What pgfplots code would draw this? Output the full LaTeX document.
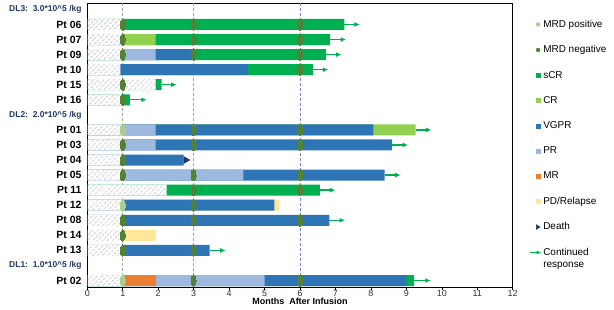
\documentclass[border=0pt]{standalone}
\usepackage{fontspec}
\setmainfont{Liberation Sans}
\usepackage{pgfplots}
\usepackage{pgfplotstable}
\pgfplotsset{compat=1.18}
\usetikzlibrary{arrows.meta,patterns.meta}

\definecolor{scr}{HTML}{00B050}
\definecolor{cr}{HTML}{92D050}
\definecolor{vgpr}{HTML}{2E75B6}
\definecolor{pr}{HTML}{9DB9DF}
\definecolor{mr}{HTML}{ED7D31}
\definecolor{pd}{HTML}{FFE699}
\definecolor{death}{HTML}{1F3864}
\definecolor{mrdneg}{HTML}{548235}
\definecolor{mrdpos}{HTML}{A9D18E}
\definecolor{hatchc}{HTML}{B0B0B0}
\definecolor{dlblue}{HTML}{1F3864}
\definecolor{refgrey}{HTML}{A6A6A6}
\definecolor{refblue}{HTML}{6F86B8}

\newcommand{\dl}{\color{dlblue}\fontsize{8.5}{10}\selectfont}

% Rows: 0 = DL3 header, 1..6 = DL3 patients, 7 = DL2 header, 8..16 = DL2 patients,
% 17 = DL1 header, 18 = DL1 patient. Each value is the month where a segment ends;
% segments are drawn from 0 and overlaid latest-first, so each row reads left to right.
\pgfplotstableread{
row end
1 7.25
2 6.85
3 6.73
4 6.36
5 2.10
6 1.20
12 6.56
18 9.22
}\scrdata
\pgfplotstableread{
row end
2 1.93
8 9.26
}\crdata
\pgfplotstableread{
row end
13 5.42
15 1.93
}\pddata
\pgfplotstableread{
row end
3 3.00
4 4.53
8 8.07
9 8.60
10 2.72
11 8.39
13 5.28
14 6.83
16 3.45
18 9.00
}\vgprdata
\pgfplotstableread{
row end
3 1.93
8 1.93
9 1.93
11 4.40
18 5.00
}\prdata
\pgfplotstableread{
row end
18 1.93
}\mrdata
\pgfplotstableread{
row end
1 1
2 1
3 1
4 0.93
5 1.93
6 1
8 1
9 1
10 1
11 1
12 2.24
13 1
14 1
15 1
16 1
18 1
}\prior
% continued response: start of arrow and its length in months
\pgfplotstableread{
row start len
1 7.25 0.44
2 6.85 0.45
3 6.73 0.44
4 6.36 0.44
5 2.10 0.42
6 1.20 0.48
8 9.26 0.45
9 8.60 0.45
11 8.39 0.45
12 6.56 0.44
14 6.83 0.44
16 3.45 0.45
18 9.22 0.47
}\contdata
\pgfplotstableread{
month row
1 1
3 1
6 1
1 2
3 2
6 2
1 3
3 3
6 3
6 4
1 5
1 6
3 8
6 8
1 9
3 9
6 9
1 10
1 11
3 11
6 11
3 12
6 12
3 13
1 14
3 14
6 14
1 15
1 16
3 16
3 18
6 18
}\mrdneg
\pgfplotstableread{
month row
1 8
1 13
1 18
}\mrdpos

\begin{document}
\begin{tikzpicture}
\begin{axis}[
  scale only axis,
  width=425.4bp, height=284bp,
  xmin=0, xmax=12,
  ymin=-0.405, ymax=18.45,
  y dir=reverse,
  axis line style={line width=0.8bp},
  xtick={0,...,12},
  xtick pos=bottom,
  xtick align=outside,
  major tick length=2.5bp,
  xtick style={black, line width=0.6bp},
  xticklabel style={font=\fontsize{9}{10}\selectfont, text=black!80, inner sep=0.5bp},
  /pgf/number format/assume math mode=true,
  ytick={0,...,18},
  ytick style={draw=none},
  yticklabels={
    {\dl DL3:\ \ 3.0*10\textasciicircum5 /kg}, Pt 06, Pt 07, Pt 09, Pt 10, Pt 15, Pt 16,
    {\dl DL2:\ \ 2.0*10\textasciicircum5 /kg}, Pt 01, Pt 03, Pt 04, Pt 05, Pt 11, Pt 12, Pt 08, Pt 14, Pt 13,
    {\dl DL1:\ \ 1.0*10\textasciicircum5 /kg}, Pt 02},
  yticklabel style={font=\bfseries\fontsize{10.5}{12}\selectfont, inner sep=0pt, xshift=-5.6bp},
  xlabel={Months\ \ After Infusion},
  xlabel style={font=\bfseries\fontsize{9}{10}\selectfont, inner sep=0pt, anchor=north,
    at={(axis description cs:0.5,0)}, yshift=-10.6bp},
  seg/.style={xbar, bar width=11bp, bar shift=0pt, draw=none, fill=#1, forget plot},
  legend cell align=left,
  legend style={
    at={(1,1)}, anchor=north west, xshift=16.2bp, yshift=-15.1bp,
    draw=none, fill=none, inner sep=0pt,
    font=\fontsize{10}{12}\selectfont,
    row sep=13.8bp,
    nodes={inner sep=1.5bp, text depth=0.15em, align=left},
  },
]
% legend entries
\addlegendimage{legend image code/.code={\fill[mrdpos] (-2.6bp,0bp) circle[radius=2bp];}}
\addlegendentry{MRD positive}
\addlegendimage{legend image code/.code={\fill[mrdneg] (-2.6bp,0bp) circle[radius=2bp];}}
\addlegendentry{MRD negative}
\addlegendimage{legend image code/.code={\fill[scr] (-4.6bp,-2bp) rectangle (-0.6bp,2bp);}}
\addlegendentry{sCR}
\addlegendimage{legend image code/.code={\fill[cr] (-4.6bp,-2bp) rectangle (-0.6bp,2bp);}}
\addlegendentry{CR}
\addlegendimage{legend image code/.code={\fill[vgpr] (-4.6bp,-2bp) rectangle (-0.6bp,2bp);}}
\addlegendentry{VGPR}
\addlegendimage{legend image code/.code={\fill[pr] (-4.6bp,-2bp) rectangle (-0.6bp,2bp);}}
\addlegendentry{PR}
\addlegendimage{legend image code/.code={\fill[mr] (-4.6bp,-2bp) rectangle (-0.6bp,2bp);}}
\addlegendentry{MR}
\addlegendimage{legend image code/.code={\fill[pd] (-4.6bp,-2bp) rectangle (-0.6bp,2bp);}}
\addlegendentry{PD/Relapse}
\addlegendimage{legend image code/.code={\fill[death] (-4.4bp,-2.4bp) -- (-0.6bp,0bp) -- (-4.4bp,2.4bp) -- cycle;}}
\addlegendentry{Death}
\addlegendimage{legend image code/.code={\draw[scr, line width=1.2bp, -{Latex[length=4.5bp,width=4bp]}] (-11bp,6bp) -- (0.5bp,6bp);}}
\addlegendentry{Continued\\response}

% assessment months
\addplot[forget plot, refgrey, line width=0.9bp, dash pattern=on 3bp off 2bp] coordinates {(1,-0.405) (1,18.45)};
\addplot[forget plot, refgrey, line width=0.9bp, dash pattern=on 3bp off 2bp] coordinates {(3,-0.405) (3,18.45)};
\addplot[forget plot, refblue, line width=0.9bp, dash pattern=on 3bp off 2bp] coordinates {(6,-0.405) (6,18.45)};

% response segments
\addplot[seg=scr]  table[x=end, y=row] {\scrdata};
\addplot[seg=cr]   table[x=end, y=row] {\crdata};
\addplot[seg=pd]   table[x=end, y=row] {\pddata};
\addplot[seg=vgpr] table[x=end, y=row] {\vgprdata};
\addplot[seg=pr]   table[x=end, y=row] {\prdata};
\addplot[seg=mr]   table[x=end, y=row] {\mrdata};
% time before infusion / before first response
\addplot[seg=white, postaction={pattern={Lines[angle=45, distance=3.6bp, line width=0.7bp]}, pattern color=hatchc}]
  table[x=end, y=row] {\prior};

% continued response
\addplot[forget plot, scr, line width=1.4bp, -{Latex[length=5.5bp,width=5bp]},
  quiver={u=\thisrow{len}, v=0}] table[x=start, y=row] {\contdata};

% death
\addplot[forget plot, death, only marks, mark=triangle*, mark size=4bp,
  mark options={rotate=-90, fill=death, draw=death}] coordinates {(2.78,10)};

% MRD status
\addplot[forget plot, mrdneg, only marks, mark=*, mark size=5.8bp,
  mark options={xscale=0.42, draw=mrdneg, fill=mrdneg, line width=0pt}] table[x=month, y=row] {\mrdneg};
\addplot[forget plot, mrdpos, only marks, mark=*, mark size=5.8bp,
  mark options={xscale=0.42, draw=mrdpos, fill=mrdpos, line width=0pt}] table[x=month, y=row] {\mrdpos};

\draw[line width=1.8bp] (rel axis cs:0,0) -- (rel axis cs:0,1);
\end{axis}
\path (-87.3bp,-22.7bp) rectangle (526.7bp,287.3bp);
\end{tikzpicture}
\end{document}
